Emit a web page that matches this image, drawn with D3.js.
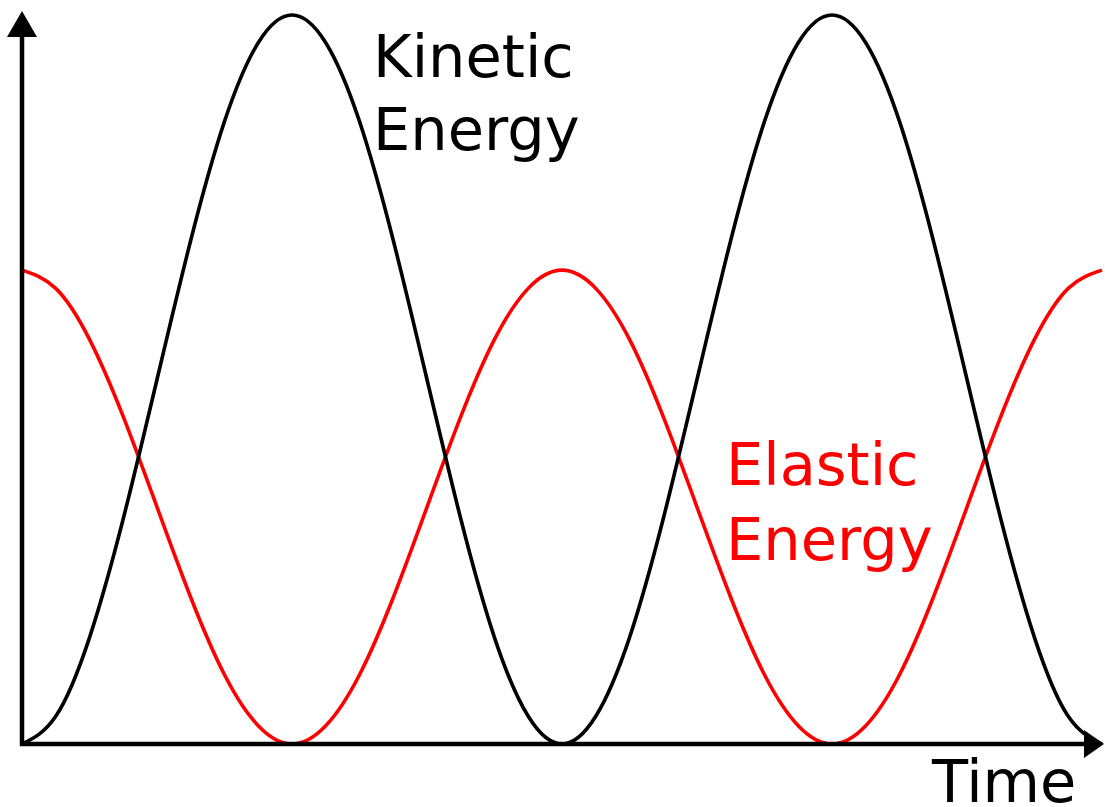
<!DOCTYPE html>
<html>
<head>
<meta charset="utf-8">
<script src="https://cdn.jsdelivr.net/npm/d3@7"></script>
<style>
  html, body { margin: 0; padding: 0; background: #fff; }
  svg { display: block; }
  text { font-family: "DejaVu Sans", sans-serif; }
</style>
</head>
<body>
<svg id="chart" width="1105" height="807"></svg>
<script>
// Time in units of half-oscillation (0..2)
const time = [0, 0.0625, 0.125, 0.1875, 0.25, 0.3125, 0.375, 0.4375, 0.5, 0.5625, 0.625, 0.6875, 0.75, 0.8125, 0.875, 0.9375, 1,
              1.0625, 1.125, 1.1875, 1.25, 1.3125, 1.375, 1.4375, 1.5, 1.5625, 1.625, 1.6875, 1.75, 1.8125, 1.875, 1.9375, 2];
const kinetic = [0, 0.038, 0.146, 0.309, 0.5, 0.691, 0.854, 0.962, 1, 0.962, 0.854, 0.691, 0.5, 0.309, 0.146, 0.038, 0,
                 0.038, 0.146, 0.309, 0.5, 0.691, 0.854, 0.962, 1, 0.962, 0.854, 0.691, 0.5, 0.309, 0.146, 0.038, 0];
const elastic = [0.65, 0.625, 0.555, 0.449, 0.325, 0.201, 0.095, 0.025, 0, 0.025, 0.095, 0.201, 0.325, 0.449, 0.555, 0.625, 0.65,
                 0.625, 0.555, 0.449, 0.325, 0.201, 0.095, 0.025, 0, 0.025, 0.095, 0.201, 0.325, 0.449, 0.555, 0.625, 0.65];
const labels = { kinetic: ["Kinetic", "Energy"], elastic: ["Elastic", "Energy"], xAxis: "Time" };

const svg = d3.select("#chart");
const x = d3.scaleLinear().domain([0, 2]).range([22, 1102]);
const y = d3.scaleLinear().domain([0, 1]).range([744, 15]);

const line = (vals) => d3.line()
  .x((d, i) => x(time[i]))
  .y(d => y(d))
  .curve(d3.curveNatural)(vals);

svg.append("path").attr("d", line(elastic))
  .attr("fill", "none").attr("stroke", "#ff0000").attr("stroke-width", 3.6);
svg.append("path").attr("d", line(kinetic))
  .attr("fill", "none").attr("stroke", "#000").attr("stroke-width", 3.6);

// Axes
const ax = svg.append("g");
ax.append("line").attr("x1", x(0)).attr("x2", x(0)).attr("y1", y(0) + 2).attr("y2", 36)
  .attr("stroke", "#000").attr("stroke-width", 4.5);
ax.append("line").attr("x1", x(0) - 2).attr("x2", 1086).attr("y1", y(0)).attr("y2", y(0))
  .attr("stroke", "#000").attr("stroke-width", 4.5);
ax.append("path").attr("d", `M${x(0)},11 L${x(0) - 15},37 L${x(0) + 15},37 Z`).attr("fill", "#000");
ax.append("path").attr("d", `M1104,${y(0)} L1084,${y(0) - 14} L1084,${y(0) + 14} Z`).attr("fill", "#000");

// Labels
const fs = 59;
const kt = svg.append("text").attr("font-size", fs).attr("fill", "#000");
kt.append("tspan").attr("x", 373).attr("y", 77).text(labels.kinetic[0]);
kt.append("tspan").attr("x", 373).attr("y", 150).text(labels.kinetic[1]);
const et = svg.append("text").attr("font-size", fs).attr("fill", "#ff0000");
et.append("tspan").attr("x", 726).attr("y", 485).text(labels.elastic[0]);
et.append("tspan").attr("x", 726).attr("y", 560).text(labels.elastic[1]);
svg.append("text").attr("x", 932).attr("y", 802).attr("font-size", fs).attr("fill", "#000").text(labels.xAxis);
</script>
</body>
</html>
